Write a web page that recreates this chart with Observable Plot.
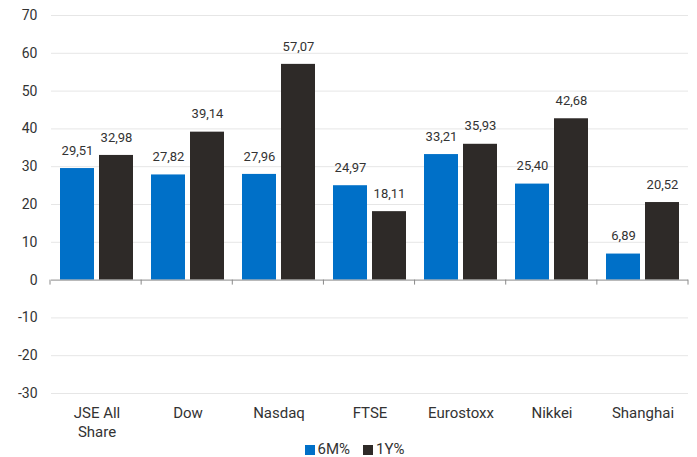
<!DOCTYPE html>
<html>
<head>
<meta charset="utf-8">
<script src="https://cdn.jsdelivr.net/npm/d3@7"></script>
<script src="https://cdn.jsdelivr.net/npm/@observablehq/plot@0.6"></script>
<style>
  html, body { margin: 0; padding: 0; background: #fff; }
  body { width: 697px; font-family: Roboto, "Noto Sans", sans-serif; }
  #legend { position: relative; display: flex; justify-content: center; gap: 13px; font-size: 15px; color: #333; height: 17px; line-height: 17px; margin-left: 12px; margin-top: -4px; }
  #legend span.item { display: inline-flex; align-items: center; gap: 3px; }
  #legend span.sw { display: inline-block; width: 10px; height: 10px; }
</style>
</head>
<body>
<div id="chart"></div>
<div id="legend"></div>
<script>
const categories = ["JSE All Share", "Dow", "Nasdaq", "FTSE", "Eurostoxx", "Nikkei", "Shanghai"];
const categoryLabels = ["JSE All\nShare", "Dow", "Nasdaq", "FTSE", "Eurostoxx", "Nikkei", "Shanghai"];
const seriesNames = ["6M%", "1Y%"];
const values6M = [29.51, 27.82, 27.96, 24.97, 33.21, 25.40, 6.89];
const values1Y = [32.98, 39.14, 57.07, 18.11, 35.93, 42.68, 20.52];
const yTicks = [70, 60, 50, 40, 30, 20, 10, 0, -10, -20, -30];
const colors = ["#0070C8", "#2E2A28"];

const data = [];
categories.forEach((c, i) => {
  data.push({cat: c, series: seriesNames[0], value: values6M[i]});
  data.push({cat: c, series: seriesNames[1], value: values1Y[i]});
});
const labelMap = new Map(categories.map((c, i) => [c, categoryLabels[i]]));
const fmt = v => v.toFixed(2).replace(".", ",");

const chart = Plot.plot({
  width: 697,
  height: 445,
  marginTop: 15,
  marginLeft: 50,
  marginRight: 9,
  marginBottom: 52,
  style: {fontFamily: "Roboto, sans-serif", fontSize: "14px", color: "#333", background: "#fff"},
  fx: {domain: categories, padding: 0, label: null, axis: null},
  x: {domain: seriesNames, paddingInner: 0.14, paddingOuter: 0.21, axis: null},
  y: {domain: [-30, 70], ticks: yTicks, label: null, axis: null},
  color: {domain: seriesNames, range: colors},
  marks: [
    Plot.ruleY(yTicks.filter(d => d !== 0), {stroke: "#e6e6e6", strokeWidth: 1}),
    Plot.axisY({ticks: yTicks, tickFormat: d => String(d), tickSize: 0, tickPadding: 14, label: null, fontSize: 14}),
    Plot.axisFx({tickFormat: c => labelMap.get(c), tickSize: 0, tickPadding: 11, label: null, fontSize: 15, lineHeight: 1.25, anchor: "bottom"}),
    Plot.barY(data, {fx: "cat", x: "series", y: "value", fill: "series"}),
    Plot.ruleY([0], {stroke: "#8a8a8a", strokeWidth: 1}),
    Plot.text(data, {fx: "cat", x: "series", y: "value", text: d => fmt(d.value), dy: -18, fontSize: 13, fill: "#333"})
  ]
});
document.getElementById("chart").appendChild(chart);

// ticks on the zero line at category boundaries, from the fx and y scales
const fxS = chart.scale("fx");
const yS = chart.scale("y");
const yScale = d3.scaleLinear().domain(yS.domain).range(yS.range);
const fxScale = d3.scaleBand().domain(fxS.domain).range(fxS.range).paddingInner(fxS.paddingInner).paddingOuter(fxS.paddingOuter);
const edges = fxS.domain.map(c => fxScale(c)).concat([fxScale(fxS.domain[fxS.domain.length - 1]) + fxScale.bandwidth()]);
const y0 = yScale(0);
const g = d3.select(chart).append("g").attr("stroke", "#8a8a8a");
edges.forEach(x => {
  g.append("line").attr("x1", x).attr("x2", x).attr("y1", y0).attr("y2", y0 + 5);
});

const legend = document.getElementById("legend");
seriesNames.forEach((s, i) => {
  const item = document.createElement("span");
  item.className = "item";
  const sw = document.createElement("span");
  sw.className = "sw";
  sw.style.background = colors[i];
  item.appendChild(sw);
  item.appendChild(document.createTextNode(s));
  legend.appendChild(item);
});
</script>
</body>
</html>
